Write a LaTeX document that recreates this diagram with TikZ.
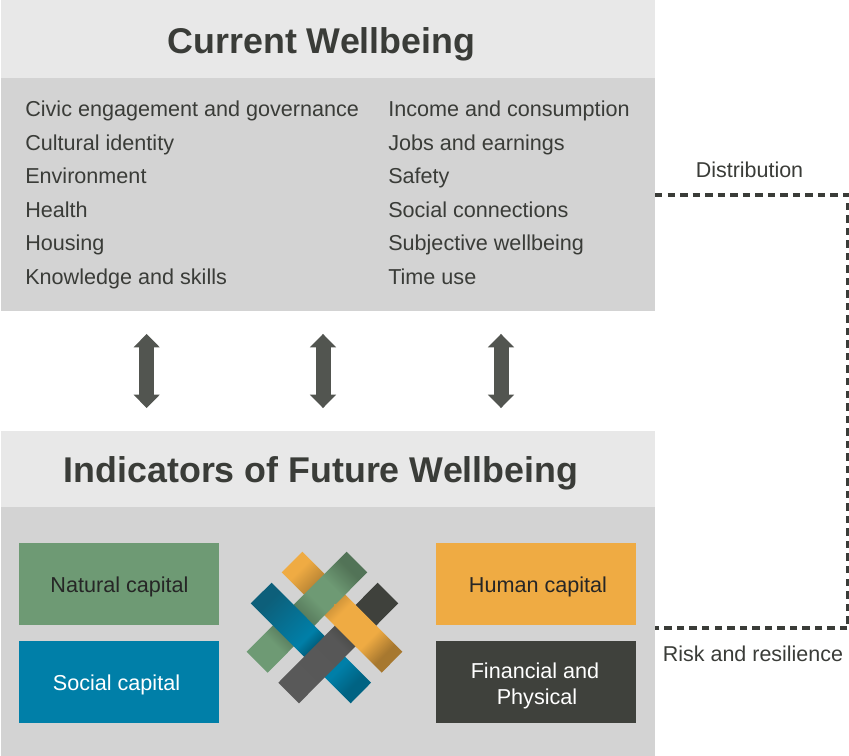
\documentclass[tikz,border=0pt]{standalone}
\usepackage{fontspec}
\setmainfont{Liberation Sans}
\usetikzlibrary{arrows.meta}

\definecolor{bandlight}{HTML}{E8E8E8}
\definecolor{panelgrey}{HTML}{D3D3D3}
\definecolor{inktext}{HTML}{3A3C38}
\definecolor{arrowgrey}{HTML}{525550}
\definecolor{naturalgreen}{HTML}{6E9A74}
\definecolor{socialblue}{HTML}{007FA8}
\definecolor{humanorange}{HTML}{EFAB43}
\definecolor{financialdark}{HTML}{3F413C}

% shadings of the woven bars, lower end first
\pgfdeclareverticalshading{orangebar}{100bp}{
  color(0bp)=(humanorange!70!black); color(25bp)=(humanorange!70!black);
  color(34bp)=(humanorange); color(50bp)=(humanorange); color(60bp)=(humanorange!72!black);
  color(66bp)=(humanorange!78!black); color(75bp)=(humanorange); color(100bp)=(humanorange)}
\pgfdeclareverticalshading{greenbar}{100bp}{
  color(0bp)=(naturalgreen); color(25bp)=(naturalgreen); color(31bp)=(naturalgreen);
  color(40bp)=(naturalgreen!72!black); color(46bp)=(naturalgreen!76!black);
  color(56bp)=(naturalgreen); color(65bp)=(naturalgreen); color(75bp)=(naturalgreen!75!black);
  color(100bp)=(naturalgreen!75!black)}
\pgfdeclareverticalshading{bluebar}{100bp}{
  color(0bp)=(socialblue!78!black); color(25bp)=(socialblue!78!black); color(34bp)=(socialblue);
  color(40bp)=(socialblue); color(47bp)=(socialblue!70!black); color(53bp)=(socialblue);
  color(75bp)=(socialblue!72!black!90!gray); color(100bp)=(socialblue!72!black!90!gray)}
\pgfdeclareverticalshading{greybar}{100bp}{
  color(0bp)=(black!65!white); color(25bp)=(black!65!white); color(50bp)=(black!66!white);
  color(60bp)=(financialdark); color(100bp)=(financialdark)}

\tikzset{
  bandbox/.style={fill=bandlight, minimum width=490.5pt, inner sep=0pt},
  titletext/.style={inner sep=0pt, text=inktext, font=\fontsize{26.85}{32}\selectfont\bfseries},
  panelbox/.style={fill=panelgrey, minimum width=490.5pt, inner sep=0pt},
  itemtext/.style={anchor=base west, inner sep=0pt, text=inktext, font=\fontsize{16.2}{19}\selectfont},
  sidetext/.style={inner sep=0pt, text=inktext, font=\fontsize{16.1}{19}\selectfont},
  capitalbox/.style={minimum width=150pt, minimum height=61.5pt, inner sep=0pt},
  capitaltext/.style={inner sep=0pt, align=center, font=\fontsize{16.2}{19.5}\selectfont},
  updown/.style={arrowgrey, line width=11.25pt, shorten <=17pt, shorten >=17pt, {Triangle[width=19pt,length=10pt]}-{Triangle[width=19pt,length=10pt]}},
  dashline/.style={draw=inktext, line width=2.3pt, dash pattern=on 5.6pt off 3.8pt}
}

\begin{document}
\begin{tikzpicture}[x=0.75pt,y=-0.75pt]
  \useasboundingbox (0,0) rectangle (849,756);

  \node [bandbox, minimum height=58.5pt] (currenttitle) at (328,39) {};
  \node [panelbox, minimum height=174.75pt] (currentbody) at (328,194.5) {};
  \node [bandbox, minimum height=57pt] (futuretitle) at (328,469) {};
  \node [panelbox, minimum height=186.75pt] (futurebody) at (328,631.5) {};
  \node [titletext] (currentlabel) at (321.5,44) {Current Wellbeing};
  \node [titletext] (futurelabel) at (321,473) {Indicators of Future Wellbeing};

  \node [itemtext] (civic) at (25,116.5) {Civic engagement and governance};
  \node [itemtext] (cultural) at (25,150.5) {Cultural identity};
  \node [itemtext] (environment) at (25,183.5) {Environment};
  \node [itemtext] (health) at (25,217) {Health};
  \node [itemtext] (housing) at (25,250.5) {Housing};
  \node [itemtext] (knowledge) at (25,284) {Knowledge and skills};

  \node [itemtext] (income) at (388,116.5) {Income and consumption};
  \node [itemtext] (jobs) at (388,150.5) {Jobs and earnings};
  \node [itemtext] (safety) at (388,183.5) {Safety};
  \node [itemtext] (connections) at (388,217) {Social connections};
  \node [itemtext] (subjective) at (388,250.5) {Subjective wellbeing};
  \node [itemtext] (timeuse) at (388,284) {Time use};

  \draw [updown] ([xshift=-136pt]currentbody.south) -- ([xshift=-136pt]futuretitle.north);
  \draw [updown] ([xshift=-3.75pt]currentbody.south) -- ([xshift=-3.75pt]futuretitle.north);
  \draw [updown] ([xshift=129.75pt]currentbody.south) -- ([xshift=129.75pt]futuretitle.north);

  \node [capitalbox, fill=naturalgreen] (natural) at (119,584) {};
  \node [capitalbox, fill=socialblue] (social) at (119,682) {};
  \node [capitalbox, fill=humanorange] (human) at (536,584) {};
  \node [capitalbox, fill=financialdark] (financial) at (536,682) {};
  \node [capitaltext, text=black!85] (naturallabel) at (119.5,587) {Natural capital};
  \node [capitaltext, text=white] (sociallabel) at (116.5,685) {Social capital};
  \node [capitaltext, text=black!85] (humanlabel) at (538,587) {Human capital};
  \node [capitaltext, text=white] (financiallabel) at (535,686) {Financial and\\\hspace*{3pt}Physical};

  % woven bars
  \shade [shading=orangebar, shading angle=45] (302.3,551.7) -- (281.7,572.3) -- (381.7,672.7) -- (402.3,651.7) -- cycle;
  \shade [shading=greenbar, shading angle=-45] (346.7,551.7) -- (367.3,572.3) -- (267.7,672.7) -- (246.7,651.7) -- cycle;
  \shade [shading=bluebar, shading angle=45] (271.7,582.7) -- (250.7,603.3) -- (350.7,703.3) -- (371,682.7) -- cycle;
  \shade [shading=greybar, shading angle=-45] (377.7,582.7) -- (398.3,603.3) -- (299,703.3) -- (278.3,682.7) -- cycle;
  \begin{scope}
    \clip (334,604) rectangle (377,647);
    \shade [shading=orangebar, shading angle=45] (302.3,551.7) -- (281.7,572.3) -- (381.7,672.7) -- (402.3,651.7) -- cycle;
  \end{scope}

  \coordinate (diststart) at (655,195);
  \coordinate (distcorner) at (848,195);
  \coordinate (riskcorner) at (848,628);
  \coordinate (riskend) at (655,628);
  \draw [dashline] (diststart) -- (distcorner) -- (riskcorner) -- (riskend);

  \node [sidetext] (distribution) at (749.5,170) {Distribution};
  \node [sidetext] (risk) at (753,654) {Risk and resilience};
\end{tikzpicture}
\end{document}
